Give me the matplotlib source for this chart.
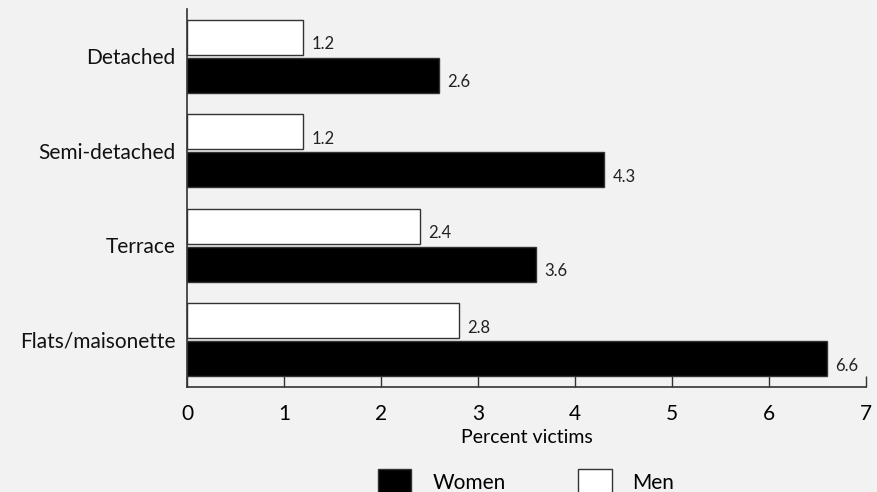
import numpy as np
import matplotlib.pyplot as plt
from matplotlib.patches import Patch

plt.rcParams['font.family'] = ['Lato', 'DejaVu Sans']

# data
categories = ["Flats/maisonette", "Terrace", "Semi-detached", "Detached"]
women = [6.6, 3.6, 4.3, 2.6]
men = [2.8, 2.4, 1.2, 1.2]

bg = "#f2f2f2"
fig = plt.figure(figsize=(8.77, 4.92), dpi=100, facecolor=bg)
ax = fig.add_axes([0.2132, 0.2134, 0.7743, 0.7683], facecolor=bg)

y = np.arange(len(categories))
h = 0.368
off = 0.2
bw = ax.barh(y - off, women, height=h, color="black", edgecolor="#333333", linewidth=1)
bm = ax.barh(y + off, men, height=h, color="white", edgecolor="#333333", linewidth=1)

for bars, vals in ((bw, women), (bm, men)):
    for b, v in zip(bars, vals):
        ax.annotate(f"{v:.1f}", (v, b.get_y() + b.get_height() / 2),
                    xytext=(6, -5), textcoords="offset points",
                    ha="left", va="center", fontsize=12, color="#222222")

ax.set_xlim(0, 7)
ax.set_ylim(-0.5, 3.5)
ax.set_yticks(y)
ax.set_yticklabels(categories, fontsize=15, color="#111111")
ax.tick_params(axis="y", length=0, pad=8)
ax.set_xticks(range(8))
ax.tick_params(axis="x", direction="in", length=8, width=1, color="#333333",
               labelsize=15, pad=12)
ax.set_xlabel("Percent victims", fontsize=14, labelpad=4)
for s in ("top", "right"):
    ax.spines[s].set_visible(False)
for s in ("left", "bottom"):
    ax.spines[s].set_color("#333333")
    ax.spines[s].set_linewidth(1.2)

handles = [Patch(facecolor="black", edgecolor="#333333"),
           Patch(facecolor="white", edgecolor="#333333")]
fig.legend(handles, ["Women", "Men"], loc="upper center",
           bbox_to_anchor=(0.60, 1 - 450 / 492), ncol=2, frameon=False,
           fontsize=15, handlelength=1.6, handleheight=1.6,
           columnspacing=3.5, handletextpad=1.0)

fig.savefig("out.png", dpi=100, facecolor=bg)
